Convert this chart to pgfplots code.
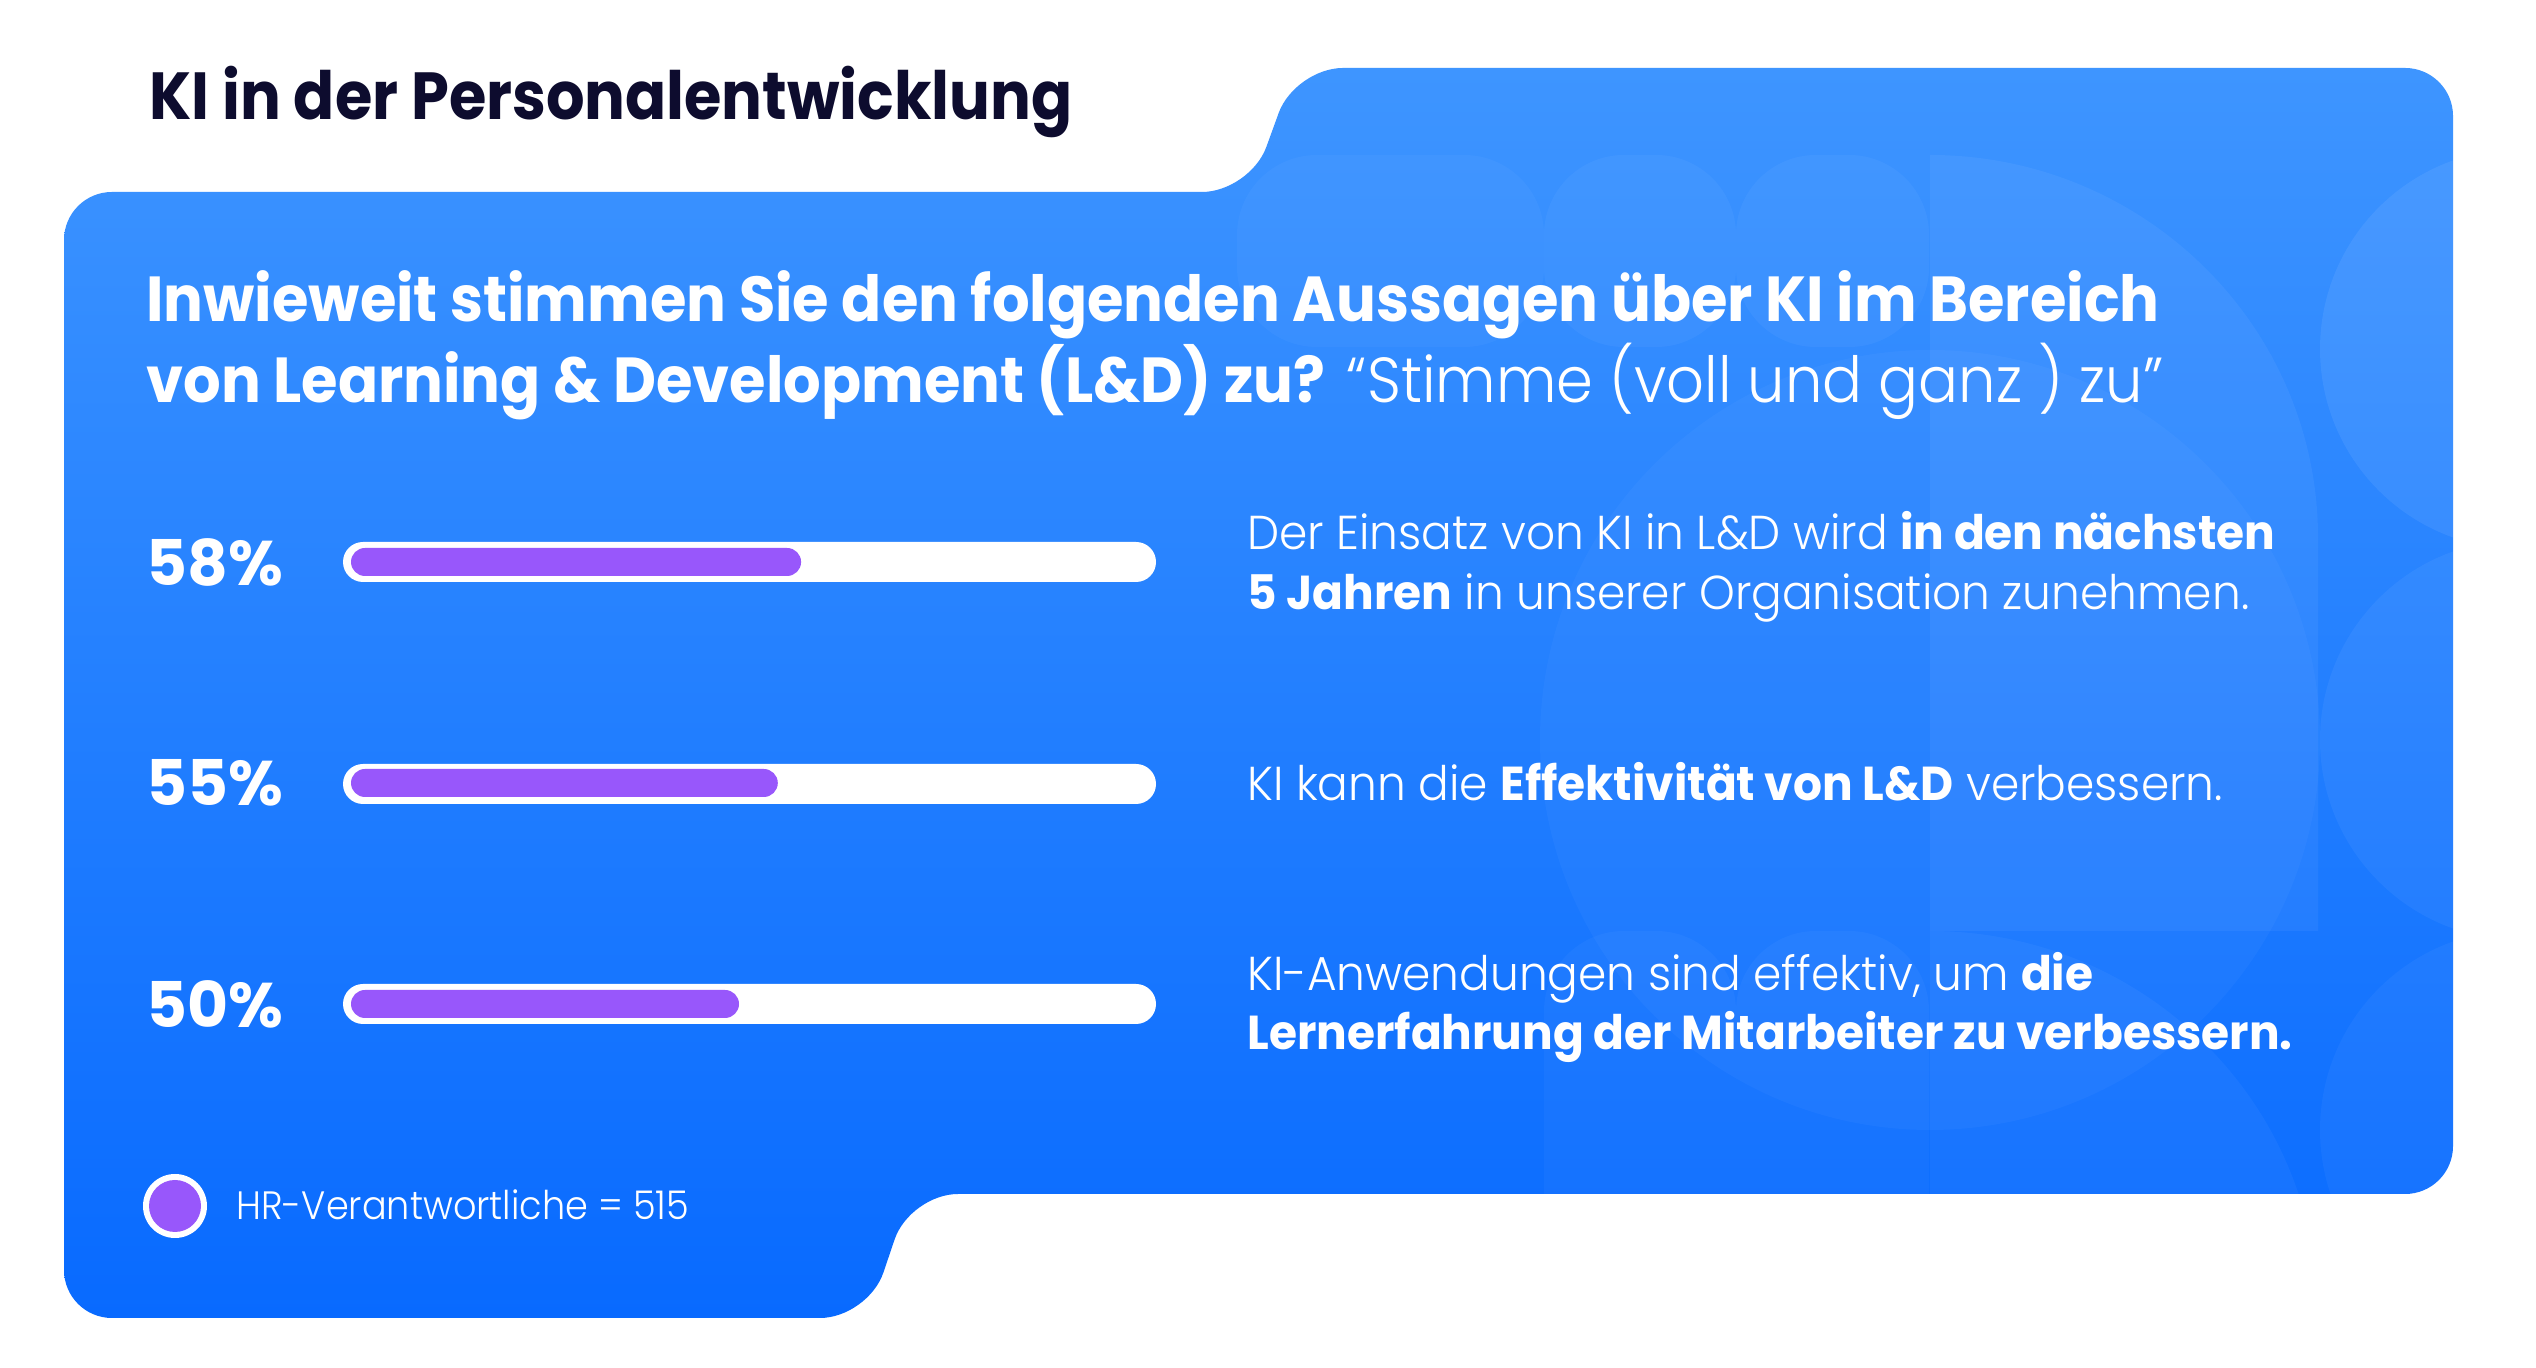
\documentclass[border=0pt]{standalone}
\usepackage{pgfplots}
\pgfplotsset{compat=1.18}
\usepackage{fontspec}
\setmainfont{Poppins}[UprightFont=* Light, BoldFont=* Bold]
\definecolor{bluetop}{RGB}{62,149,255}
\definecolor{bluebot}{RGB}{8,106,255}
\definecolor{barpurple}{RGB}{152,87,251}
\definecolor{navy}{RGB}{13,12,46}
\newcommand{\fs}[1]{\fontsize{#1}{#1}\selectfont}
\begin{document}
\begin{tikzpicture}[x=0.5pt,y=0.5pt]
\fill[white] (0,0) rectangle (2536,1368);
% blue panel
\shade[rounded corners=24pt, top color=bluetop, bottom color=bluebot]
  (64,1176) -- (1250,1176) -- (1295,1300) -- (2453,1300) -- (2453,174) -- (910,174) -- (868,50) -- (64,50) -- cycle;
% faint decorative shapes
\begin{scope}
\clip[rounded corners=24pt]
  (64,1176) -- (1250,1176) -- (1295,1300) -- (2453,1300) -- (2453,174) -- (910,174) -- (868,50) -- (64,50) -- cycle;
\fill[white, opacity=0.05] (1930,437) -- (1930,1213) arc[start angle=90, end angle=0, x radius=388, y radius=383] -- (2318,437) -- cycle;
\fill[white, opacity=0.04] (1930,0) -- (1930,437) arc[start angle=90, end angle=0, x radius=388, y radius=383] -- (2318,0) -- cycle;
\fill[white, opacity=0.07] (2520,1019) circle[radius=200];
\fill[white, opacity=0.05] (2520,628) circle[radius=200];
\fill[white, opacity=0.04] (2520,238) circle[radius=200];
\fill[white, opacity=0.04, rounded corners=40pt] (1544,1021) rectangle (1736,1213);
\fill[white, opacity=0.04, rounded corners=40pt] (1736,1021) rectangle (1929,1213);
\fill[white, opacity=0.03, rounded corners=40pt] (1237,1021) rectangle (1544,1213);
\fill[white, opacity=0.03] (1930,628) circle[radius=390];
\fill[white, opacity=0.03, rounded corners=40pt] (1544,0) rectangle (1736,437);
\fill[white, opacity=0.03, rounded corners=40pt] (1736,0) rectangle (1929,437);
\end{scope}
% title
\node[anchor=base west, inner sep=0pt, text=navy, font=\bfseries\fs{33.3pt}] at (149,1248) {\scalebox{0.91}[1]{KI in der Personalentwicklung}};
% question
\node[anchor=base west, inner sep=0pt, text=white, font=\fs{31.8pt}] at (146,1046) {\scalebox{0.93}[1]{\textbf{Inwieweit stimmen Sie den folgenden Aussagen über KI im Bereich}}};
\node[anchor=base west, inner sep=0pt, text=white, font=\fs{31.8pt}] at (146,965) {\scalebox{0.93}[1]{\textbf{von Learning \& Development (L\&D) zu?} “Stimme (voll und ganz ) zu”}};
% tracks
\fill[white, rounded corners=10pt] (343,786) rectangle (1156,826);
\fill[white, rounded corners=10pt] (343,564) rectangle (1156,604);
\fill[white, rounded corners=10pt] (343,344) rectangle (1156,384);
% statements
\node[anchor=base west, inner sep=0pt, text=white, font=\fs{23.8pt}] at (1247,818) {\scalebox{0.955}[1]{Der Einsatz von KI in L\&D wird \textbf{in den nächsten}}};
\node[anchor=base west, inner sep=0pt, text=white, font=\fs{23.8pt}] at (1247,758) {\scalebox{0.955}[1]{\textbf{5 Jahren} in unserer Organisation zunehmen.}};
\node[anchor=base west, inner sep=0pt, text=white, font=\fs{23.8pt}] at (1247,567) {\scalebox{0.955}[1]{KI kann die \textbf{Effektivität von L\&D} verbessern.}};
\node[anchor=base west, inner sep=0pt, text=white, font=\fs{23.8pt}] at (1247,377) {\scalebox{0.955}[1]{KI-Anwendungen sind effektiv, um \textbf{die}}};
\node[anchor=base west, inner sep=0pt, text=white, font=\fs{23.8pt}] at (1247,318) {\scalebox{0.955}[1]{\textbf{Lernerfahrung der Mitarbeiter zu verbessern.}}};
% bars
\begin{axis}[at={(175.5pt,126.75pt)}, anchor=south west, scale only axis,
  width=388pt, height=331.5pt,
  xmin=0, xmax=100, ymin=-0.5, ymax=2.5, clip=false,
  axis line style={draw=none}, tick style={draw=none},
  xtick=\empty, ytick={0,1,2}, yticklabels={50\%,55\%,58\%},
  yticklabel style={anchor=west, inner sep=0pt, xshift=-102.5pt, text=white, font=\bfseries\fs{31.5pt}}]
\addplot[xbar, bar shift=0pt, bar width=14pt, fill=barpurple, draw=none, rounded corners=7pt]
  coordinates {(50,0) (55,1) (58,2)};
\end{axis}
% legend
\fill[white] (175,162) circle[radius=32];
\fill[barpurple] (175,162) circle[radius=26];
\node[anchor=base west, inner sep=0pt, text=white, font=\fs{19.8pt}] at (236,148) {\scalebox{0.926}[1]{HR-Verantwortliche = 515}};
\end{tikzpicture}
\end{document}
